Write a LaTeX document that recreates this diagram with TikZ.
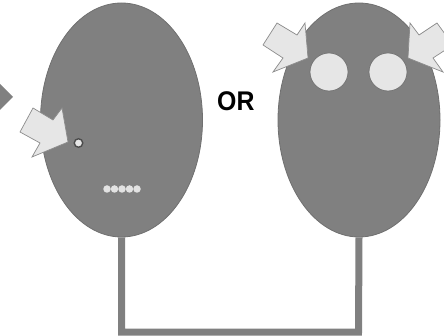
\documentclass[tikz,border=0pt]{standalone}
\usepackage{fontspec}
\setmainfont{Liberation Sans}
\usetikzlibrary{shapes.geometric}
\definecolor{bodygray}{HTML}{808080}
\definecolor{edgegray}{HTML}{707070}
\definecolor{lightfill}{HTML}{E6E6E6}
\definecolor{arrowedge}{HTML}{8C8C8C}
\definecolor{dotfill}{HTML}{E2E2E2}
\begin{document}
\begin{tikzpicture}[x=1pt,y=-1pt,
  body/.style={ellipse, draw=edgegray, fill=bodygray, line width=0.8pt,
    minimum width=162pt, minimum height=234pt, inner sep=0pt},
  blockarrow/.style={draw=arrowedge, fill=lightfill, line width=0.7pt, line join=miter},
  eye/.style={circle, draw=edgegray, fill=lightfill, line width=0.7pt,
    minimum size=38pt, inner sep=0pt},
  spot/.style={circle, draw=black!70, fill=lightfill, line width=1.4pt,
    minimum size=8.5pt, inner sep=0pt},
  dot/.style={circle, fill=dotfill, minimum size=7.5pt, inner sep=0pt},
  wire/.style={draw=bodygray, line width=7pt, line join=miter},
  ortext/.style={font=\bfseries\fontsize{27}{27}\selectfont, inner sep=0pt, xscale=0.92}
]
\useasboundingbox (0,0) rectangle (444,336);
% partial diamond at left edge
\fill[bodygray] (-17,97) -- (-2,82) -- (13,97) -- (-2,112) -- cycle;
% bodies
\node[body] (L) at (121.5,120) {};
\node[body] (R) at (359,120) {};
% connector
\coordinate (c1) at (121.5,332);
\coordinate (c2) at (358.5,332);
\draw[wire] (L.south) -- (c1) -- (c2) -- (R.south);
% left spot and dots
\node[spot] (s) at (78.5,143) {};
\foreach \i/\x in {1/107,2/114.5,3/122,4/129.5,5/137}
  \node[dot] (d\i) at (\x,189) {};
% eyes
\node[eye] (e1) at (329,72) {};
\node[eye] (e2) at (388,72) {};
% OR
\node[ortext, anchor=base west] (or) at (217,110.5) {OR};
% arrows
\draw[blockarrow] (33,108) -- (53,120) -- (62,108) -- (68,142) -- (32,157) -- (40,143) -- (20,132) -- cycle;
\draw[blockarrow] (277,23) -- (297,35) -- (305,23) -- (308,58) -- (273,72) -- (283,58) -- (263,45) -- cycle;
\draw[blockarrow] (437,23) -- (419,35) -- (410,23) -- (408,58) -- (443,72) -- (433,58) -- (453,45) -- cycle;
\end{tikzpicture}
\end{document}
